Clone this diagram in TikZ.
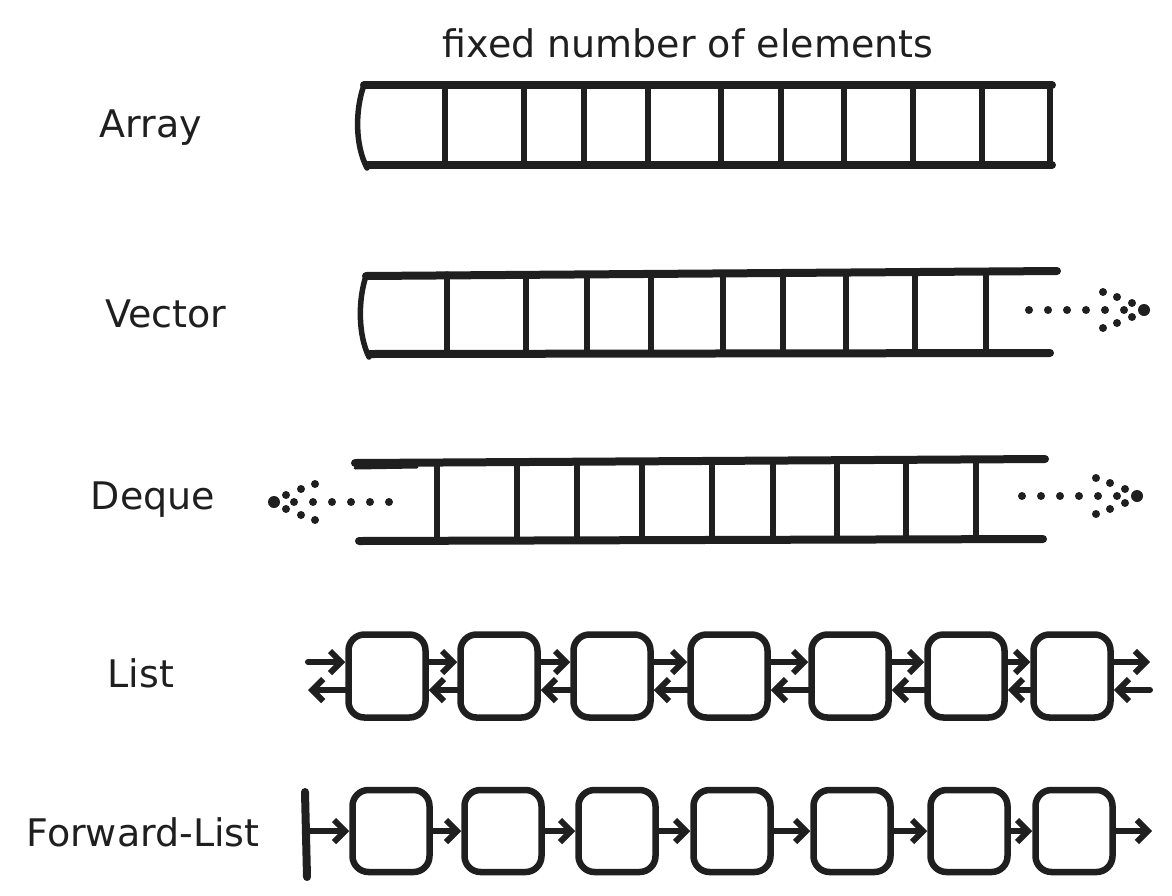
\documentclass[tikz,border=0pt]{standalone}
\usepackage{fontspec}
\setmainfont{DejaVu Sans}
\usetikzlibrary{arrows.meta}

\tikzset{
  kind/.style={font=\fontsize{38}{40}\selectfont, text=black!88},
  rail/.style={line width=8pt, line cap=round},
  bar/.style={line width=5.5pt, line cap=round},
  cell/.style={draw, line width=6.5pt, rounded corners=16pt, minimum width=77pt, minimum height=83pt},
  link/.style={line width=6pt, line cap=round, -{Straight Barb[length=11pt, width=22pt]}},
  dotarrow/.pic={
    \foreach \dx in {-115,-96,-77,-58,-39,-20}
      \fill (\dx,0) circle (4pt);
    \foreach \dx/\dy in {-41/18,-27/13,-12/7}{
      \fill (\dx,\dy) circle (4pt);
      \fill (\dx,-\dy) circle (4pt);
    }
    \fill (0,0) circle (6pt);
  }
}

\begin{document}
\begin{tikzpicture}[x=1pt, y=-1pt, black!88]
  \useasboundingbox (0,0) rectangle (1172,895);

  % Titles
  \node[kind] (title) at (688,43) {fixed number of elements};
  \node[kind] (array) at (151,128) {Array};
  \node[kind] (vector) at (166,314) {Vector};
  \node[kind] (deque) at (153,500) {Deque};
  \node[kind] (list) at (141,673) {List};
  \node[kind] (fwd) at (143,832) {Forward-List};

  % Array
  \draw[rail] (364,85) -- (1052,85);
  \draw[rail] (368,165) -- (1052,165);
  \draw[bar] (364,85) .. controls (355,110) and (355,145) .. (367,168);
  \foreach \x in {445,524,584,648,721,781,844,913,982,1050}
    \draw[bar] (\x,85) -- (\x,165);

  % Vector
  \draw[rail] (366,276) -- (1057,271);
  \draw[rail] (369,354) -- (1050,353);
  \draw[bar] (366,276) .. controls (358,300) and (358,335) .. (369,357);
  \foreach \x in {447,526,587,651,723,783,846,915,986}
    \draw[bar] (\x,274) -- (\x,353);
  \pic at (1144,310) {dotarrow};

  % Deque
  \draw[rail] (355,463) -- (1045,459);
  \draw[line width=3pt, line cap=round] (355,468) -- (417,467);
  \draw[rail] (359,541) -- (1043,539);
  \foreach \x in {437,517,577,642,712,773,837,906,976}
    \draw[bar] (\x,462) -- (\x,539);
  \pic[rotate=180] at (274,502) {dotarrow};
  \pic at (1137,496) {dotarrow};

  % List
  \foreach \x [count=\i] in {387,499,612,729,850,966,1072}
    \node[cell] (l\i) at (\x,676) {};
  \coordinate (lin) at (308,662);
  \coordinate (lout) at (308,690);
  \coordinate (rin) at (1150,690);
  \coordinate (rout) at (1150,662);
  \draw[link] (lin) -- ([yshift=14pt]l1.west);
  \draw[link] ([yshift=-14pt]l1.west) -- (lout);
  \foreach \i [count=\j from 2] in {1,...,6} {
    \draw[link] ([yshift=14pt]l\i.east) -- ([yshift=14pt]l\j.west);
    \draw[link] ([yshift=-14pt]l\j.west) -- ([yshift=-14pt]l\i.east);
  }
  \draw[link] ([yshift=14pt]l7.east) -- (rout);
  \draw[link] (rin) -- ([yshift=-14pt]l7.east);

  % Forward-List
  \draw[line width=8pt, line cap=round] (305,792) -- (307,877);
  \coordinate (head) at (307,831);
  \foreach \x [count=\i] in {391,503,617,732,852,969,1074}
    \node[cell, minimum height=82pt] (f\i) at (\x,831) {};
  \coordinate (tail) at (1152,831);
  \draw[link] (head) -- (f1.west);
  \foreach \i [count=\j from 2] in {1,...,6}
    \draw[link] (f\i.east) -- (f\j.west);
  \draw[link] (f7.east) -- (tail);
\end{tikzpicture}
\end{document}
